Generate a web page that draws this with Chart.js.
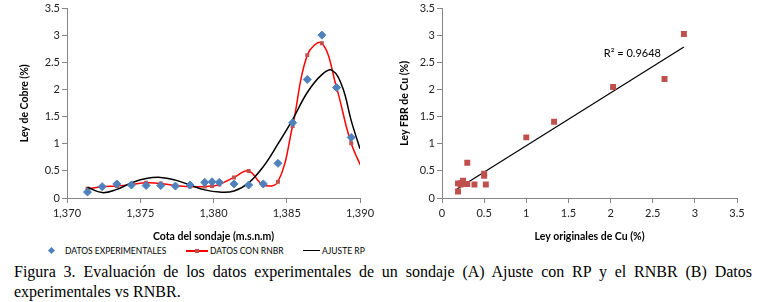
<!DOCTYPE html>
<html>
<head>
<meta charset="utf-8">
<script src="https://cdn.jsdelivr.net/npm/chart.js@4.4.0/dist/chart.umd.min.js"></script>
<style>
  body { margin: 0; background: #fff; width: 766px; height: 302px; overflow: hidden; position: relative; font-family: Lato, sans-serif; }
  #chartA { position: absolute; left: 0; top: 0; }
  #chartB { position: absolute; left: 380px; top: 0; }
  .lg { position: absolute; font-size: 8.5px; line-height: 10px; top: 246px; color: #000; white-space: nowrap; }
  .mk { position: absolute; }
  #caption { position: absolute; left: 14px; top: 262px; width: 738px; font-family: "Liberation Serif", serif; font-size: 16px; line-height: 20px; text-align: justify; color: #000; }
</style>
</head>
<body>
<canvas id="chartA" width="380" height="245"></canvas>
<canvas id="chartB" width="386" height="245"></canvas>

<div class="mk" style="left:49px;top:248px;width:5px;height:5px;background:#4F81BD;transform:rotate(45deg)"></div>
<div class="lg" style="left:65px">DATOS EXPERIMENTALES</div>
<div class="mk" style="left:186px;top:250px;width:22px;height:1.5px;background:#FF0000"></div>
<div class="mk" style="left:195px;top:249px;width:4px;height:4px;background:#C0504D"></div>
<div class="lg" style="left:210px">DATOS CON RNBR</div>
<div class="mk" style="left:303px;top:250px;width:17px;height:1.2px;background:#000"></div>
<div class="lg" style="left:322px">AJUSTE RP</div>

<div id="caption">Figura 3. Evaluación de los datos experimentales de un sondaje (A) Ajuste con RP y el RNBR (B) Datos experimentales vs RNBR.</div>

<script>
// (A) cota del sondaje vs ley de cobre
var cota = [1371.4, 1372.4, 1373.4, 1374.4, 1375.4, 1376.4, 1377.4, 1378.4, 1379.4, 1379.9,
            1380.4, 1381.4, 1382.4, 1383.4, 1384.4, 1385.4, 1386.4, 1387.4, 1388.4, 1389.4];
var experimentales = [0.11, 0.21, 0.26, 0.24, 0.23, 0.23, 0.22, 0.24, 0.29, 0.30,
                      0.29, 0.26, 0.24, 0.26, 0.64, 1.39, 2.19, 3.01, 2.04, 1.12];
var cotaRnbr = cota.concat([1390.4]);
var rnbr = [0.17, 0.21, 0.22, 0.25, 0.28, 0.27, 0.23, 0.21, 0.21, 0.22,
            0.25, 0.38, 0.50, 0.24, 0.30, 1.33, 2.64, 2.86, 2.04, 1.01, 0.40];
var cotaRp = [1371.4, 1372.4, 1373.4, 1374.4, 1375.4, 1376.4, 1377.4, 1378.4, 1379.4, 1380.4,
              1381.4, 1382.4, 1383.4, 1384.4, 1385.4, 1386.4, 1387.4, 1388.1, 1388.8, 1389.4, 1390.0];
var ajusteRp = [0.20, 0.10, 0.16, 0.28, 0.36, 0.38, 0.33, 0.24, 0.15, 0.11,
                0.13, 0.28, 0.58, 1.00, 1.45, 1.95, 2.28, 2.36, 2.05, 1.43, 0.91];

// (B) ley originales vs ley FBR
var leyOriginal = [0.19, 0.19, 0.22, 0.25, 0.23, 0.27, 0.30, 0.30, 0.385, 0.50, 0.50, 0.52, 1.00, 1.33, 2.03, 2.64, 2.87];
var leyFbr =      [0.12, 0.27, 0.25, 0.32, 0.28, 0.26, 0.26, 0.65, 0.25, 0.45, 0.41, 0.25, 1.12, 1.41, 2.05, 2.20, 3.03];
var tendenciaX = [0.175, 2.87];
var tendenciaY = [0.16, 2.79];
var r2Text = 'R² = 0.9648';

function pts(xs, ys) {
  return xs.map(function (x, i) { return {x: x, y: ys[i]}; });
}

var axisColor = '#868686';
var tickFont = {family: 'Lato', size: 11};
var titleFont = {family: 'Lato', size: 10.5, weight: 'bold'};

function axis(min, max, step, title, isX, fitSize, titlePad) {
  return {
    type: 'linear',
    min: min, max: max,
    ticks: {
      stepSize: step, font: tickFont, color: '#222', padding: isX ? 4 : 2, maxRotation: 0,
      callback: function (v) { return v.toLocaleString('en-US'); }
    },
    grid: {drawOnChartArea: false, drawTicks: true, tickLength: 5, color: axisColor},
    border: {color: axisColor, width: 1},
    title: {display: true, text: title, font: titleFont, color: '#000', padding: titlePad},
    afterFit: function (scale) {
      if (isX) scale.height = fitSize; else scale.width = fitSize;
    }
  };
}

new Chart(document.getElementById('chartA'), {
  type: 'line',
  data: {
    datasets: [{
      label: 'DATOS EXPERIMENTALES',
      data: pts(cota, experimentales),
      showLine: false,
      pointStyle: 'rectRot',
      pointRadius: 4,
      backgroundColor: '#4F81BD',
      borderColor: '#4F81BD',
      order: 0
    }, {
      label: 'AJUSTE RP',
      data: pts(cotaRp, ajusteRp),
      borderColor: '#000',
      borderWidth: 1.5,
      pointRadius: 0,
      tension: 0.4,
      order: 1
    }, {
      label: 'DATOS CON RNBR',
      data: pts(cotaRnbr, rnbr),
      borderColor: '#FF0000',
      borderWidth: 1.5,
      pointStyle: 'rect',
      pointRadius: 2.8,
      pointBackgroundColor: '#C0504D',
      pointBorderColor: '#C0504D',
      pointBorderWidth: 0,
      tension: 0.4,
      order: 2
    }]
  },
  options: {
    responsive: false,
    animation: false,
    layout: {padding: {top: 7, right: 20, left: 0, bottom: 0}},
    plugins: {legend: {display: false}, tooltip: {enabled: false}},
    scales: {
      x: axis(1370, 1390, 5, 'Cota del sondaje (m.s.n.m)', true, 47, {bottom: 2}),
      y: axis(0, 3.5, 0.5, 'Ley de Cobre (%)', false, 67, {top: 18})
    }
  }
});

var r2Label = {
  id: 'r2Label',
  afterDatasetsDraw: function (chart) {
    var ctx = chart.ctx, sx = chart.scales.x, sy = chart.scales.y;
    ctx.save();
    ctx.font = '11px Lato';
    ctx.fillStyle = '#000';
    ctx.textBaseline = 'middle';
    ctx.fillText(r2Text, sx.getPixelForValue(1.92), sy.getPixelForValue(2.67));
    ctx.restore();
  }
};

new Chart(document.getElementById('chartB'), {
  type: 'scatter',
  data: {
    datasets: [{
      label: 'RNBR',
      data: pts(leyOriginal, leyFbr),
      pointStyle: 'rect',
      pointRadius: 4.2,
      backgroundColor: '#C0504D',
      borderColor: '#C0504D',
      borderWidth: 0
    }, {
      type: 'line',
      label: 'Lineal',
      data: pts(tendenciaX, tendenciaY),
      borderColor: '#000',
      borderWidth: 1.2,
      pointRadius: 0,
      tension: 0
    }]
  },
  options: {
    responsive: false,
    animation: false,
    layout: {padding: {top: 7, right: 29, left: 0, bottom: 0}},
    plugins: {legend: {display: false}, tooltip: {enabled: false}},
    scales: {
      x: axis(0, 3.5, 0.5, 'Ley originales de Cu (%)', true, 47, {bottom: 2}),
      y: axis(0, 3.5, 0.5, 'Ley FBR de Cu (%)', false, 62, {top: 18})
    }
  },
  plugins: [r2Label]
});
</script>
</body>
</html>
